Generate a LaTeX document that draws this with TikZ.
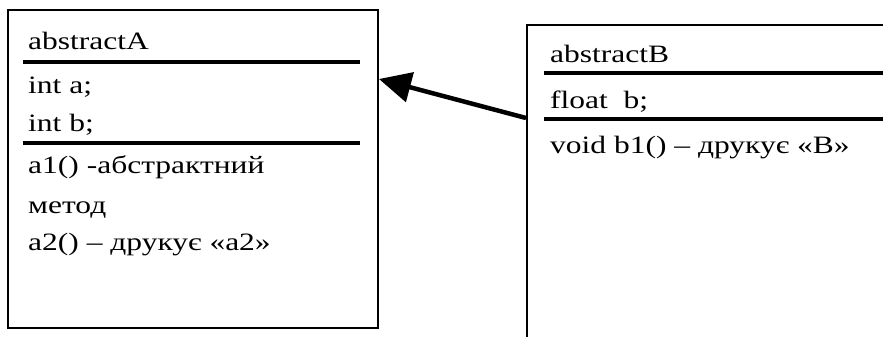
\documentclass[tikz,border=0pt]{standalone}
\usepackage{fontspec}
\setmainfont{Liberation Serif}
\newfontfamily\umlfont[FakeStretch=1.26]{Liberation Serif}
\usetikzlibrary{arrows.meta,calc}
\begin{document}
\begin{tikzpicture}[x=1pt,y=-1pt,
  classbox/.style={draw=black,line width=2pt,fill=white,inner sep=0pt},
  sepline/.style={line width=4pt},
  member/.style={anchor=base west,inner sep=0pt,font=\umlfont\fontsize{25}{30}\selectfont},
  inherit/.style={line width=4.5pt,-{Triangle[length=32pt,width=30pt]}}]
\useasboundingbox (0,0) rectangle (883,337);
\clip (0,0) rectangle (883,337);
\node[classbox,minimum width=370pt,minimum height=318pt] (A) at (193,169) {};
\node[classbox,minimum width=380pt,minimum height=330pt] (B) at (717,190) {};
% separators
\draw[sepline] (23,62) -- (360,62);
\draw[sepline] (23,143) -- (360,143);
\draw[sepline] (544,73) -- (890,73);
\draw[sepline] (544,119) -- (890,119);
% texts A
\node[member] (a0) at (28,50) {abstractA};
\node[member] (a1) at (28,93) {int a;};
\node[member] (a2) at (28,131) {int b;};
\node[member] (a3) at (28,173) {a1() -абстрактний};
\node[member] (a4) at (28,213) {метод};
\node[member] (a5) at (28,250) {a2() – друкує «a2»};
% texts B
\node[member] (b0) at (550,63) {abstractB};
\node[member] (b1) at (550,108) {float\ \ b;};
\node[member] (b2) at (550,153) {void b1() – друкує «B»};
% arrow
\coordinate (bstart) at ($(B.north west)+(0,94)$);
\coordinate (atip) at ($(A.north east)+(0,70)$);
\draw[inherit] (bstart) -- (atip);
\end{tikzpicture}
\end{document}
